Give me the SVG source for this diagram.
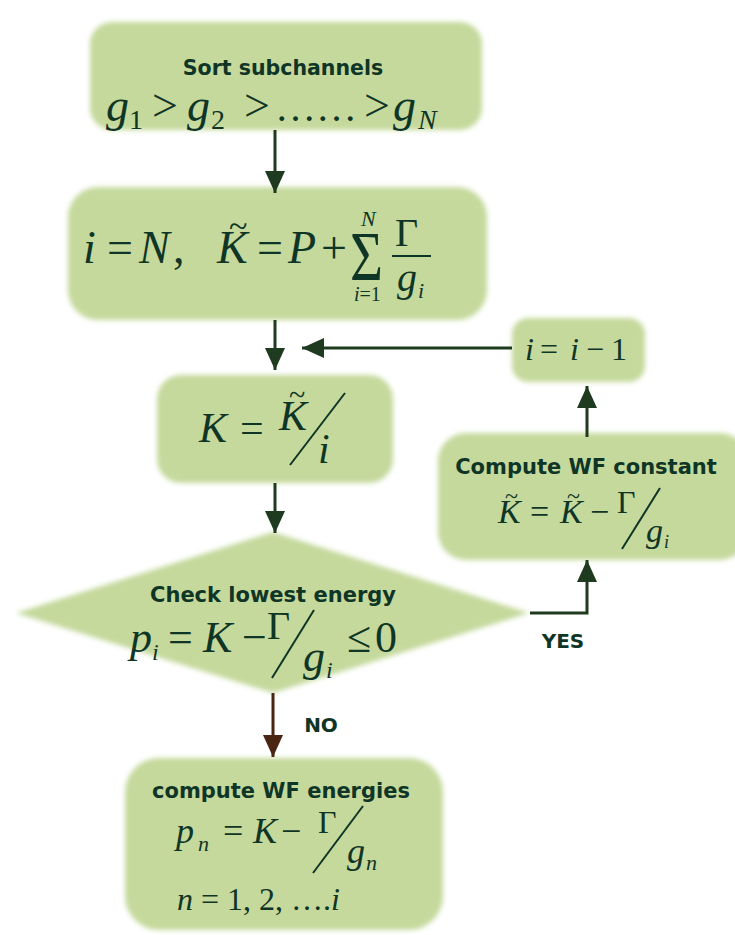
<svg xmlns="http://www.w3.org/2000/svg" width="735" height="935" viewBox="0 0 735 935">
<defs>
<filter id="soft" x="-10%" y="-10%" width="120%" height="120%"><feGaussianBlur stdDeviation="2.5"/></filter>
<marker id="ah" viewBox="0 0 22 20" refX="22" refY="10" markerWidth="22" markerHeight="20" markerUnits="userSpaceOnUse" orient="auto"><path d="M0,0 L22,10 L0,20 Z" fill="#1e3a1f"/></marker>
<marker id="ahb" viewBox="0 0 22 20" refX="22" refY="10" markerWidth="22" markerHeight="20" markerUnits="userSpaceOnUse" orient="auto"><path d="M0,0 L22,10 L0,20 Z" fill="#4a2612"/></marker>
</defs>
<style>
.sh{fill:#c5d99c;filter:url(#soft)}
.m{font-family:"Liberation Serif","Times New Roman",serif;fill:#0f3526}
.v{font-style:italic}
.t{font-family:"DejaVu Sans",Verdana,sans-serif;font-weight:bold;fill:#0f3526;text-anchor:middle}
.sl{stroke:#0f3526;stroke-width:2;fill:none}
.c{stroke:#1e3a1f;stroke-width:3;fill:none}
</style>
<rect width="735" height="935" fill="#ffffff"/>

<g id="sort">
<rect class="sh" x="90" y="22" width="392" height="108" rx="22"/>
<text class="t" x="283" y="75" font-size="20.5">Sort subchannels</text>
<text class="m" font-size="46"><tspan class="v" x="106" y="121">g</tspan><tspan x="129" y="129" font-size="28">1</tspan><tspan x="152" y="121">&gt;</tspan><tspan class="v" x="187" y="121">g</tspan><tspan x="211" y="129" font-size="28">2</tspan><tspan x="244" y="121">&gt;</tspan><tspan x="275" y="121" font-size="41">……</tspan><tspan x="364" y="121">&gt;</tspan><tspan class="v" x="393" y="121">g</tspan><tspan class="v" x="418" y="129" font-size="28">N</tspan></text>
</g>

<g id="init">
<rect class="sh" x="68" y="187" width="419" height="133" rx="30"/>
<text class="m" font-size="46"><tspan class="v" x="83" y="263">i</tspan><tspan x="107" y="263">=</tspan><tspan class="v" x="139" y="263">N</tspan><tspan x="173" y="263">,</tspan><tspan class="v" x="217" y="263">K</tspan><tspan x="257" y="263">=</tspan><tspan class="v" x="288" y="263">P</tspan><tspan x="321" y="263">+</tspan></text>
<text class="m" x="229" y="237" font-size="34">~</text>
<text class="m" transform="translate(350,280) scale(1.05,1.3)" font-size="54">Σ</text>
<text class="m v" x="361" y="226" font-size="22">N</text>
<text class="m" x="354" y="301" font-size="20"><tspan class="v">i</tspan>=1</text>
<text class="m" x="395" y="246" font-size="40">Γ</text>
<line class="sl" x1="392" y1="256" x2="431" y2="256"/>
<text class="m" font-size="40"><tspan class="v" x="397" y="291">g</tspan><tspan class="v" x="418" y="298" font-size="22">i</tspan></text>
</g>

<g id="kdiv">
<rect class="sh" x="157" y="375" width="236" height="108" rx="24"/>
<text class="m" font-size="42"><tspan class="v" x="199" y="442">K</tspan><tspan x="240" y="442">=</tspan><tspan class="v" x="279" y="430">K</tspan><tspan class="v" x="318" y="463">i</tspan></text>
<text class="m" x="289" y="405" font-size="30">~</text>
<line class="sl" x1="290" y1="465" x2="345" y2="393"/>
</g>

<g id="dec">
<rect class="sh" x="512" y="318" width="133" height="64" rx="16"/>
<text class="m" font-size="32"><tspan class="v" x="525" y="360">i</tspan><tspan x="540" y="360">=</tspan><tspan class="v" x="570" y="360">i</tspan><tspan x="586" y="360">−</tspan><tspan x="611" y="360">1</tspan></text>
</g>

<g id="wfconst">
<rect class="sh" x="438" y="433" width="310" height="127" rx="28"/>
<text class="t" x="586" y="474" font-size="21">Compute WF constant</text>
<text class="m" font-size="34"><tspan class="v" x="498" y="523">K</tspan><tspan x="530" y="523">=</tspan><tspan class="v" x="560" y="523">K</tspan><tspan x="590" y="523">−</tspan><tspan x="617" y="513" font-size="32">Γ</tspan><tspan class="v" x="646" y="542">g</tspan><tspan class="v" x="664" y="548" font-size="18">i</tspan></text>
<text class="m" x="505" y="504" font-size="24">~</text>
<text class="m" x="567" y="504" font-size="24">~</text>
<line class="sl" x1="622" y1="549" x2="660" y2="488"/>
</g>

<g id="check">
<polygon class="sh" points="16,613 273,532 529,613 273,693"/>
<text class="t" x="273" y="602" font-size="21">Check lowest energy</text>
<text class="m" font-size="44"><tspan class="v" x="130" y="652">p</tspan><tspan class="v" x="152" y="660" font-size="24">i</tspan><tspan x="168" y="652">=</tspan><tspan class="v" x="203" y="652">K</tspan><tspan x="242" y="652">−</tspan><tspan x="267" y="639" font-size="40">Γ</tspan><tspan class="v" x="303" y="671">g</tspan><tspan class="v" x="326" y="678" font-size="24">i</tspan><tspan x="347" y="652">≤</tspan><tspan x="375" y="652">0</tspan></text>
<line class="sl" x1="272" y1="678" x2="314" y2="610"/>
</g>

<g id="wfenergies">
<rect class="sh" x="125" y="758" width="318" height="172" rx="34"/>
<text class="t" x="281" y="798" font-size="21">compute WF energies</text>
<text class="m" font-size="36"><tspan class="v" x="176" y="843">p</tspan><tspan class="v" x="198" y="851" font-size="22">n</tspan><tspan x="223" y="843">=</tspan><tspan class="v" x="253" y="843">K</tspan><tspan x="281" y="843">−</tspan><tspan x="318" y="833" font-size="32">Γ</tspan><tspan class="v" x="347" y="863" font-size="36">g</tspan><tspan class="v" x="366" y="870" font-size="22">n</tspan></text>
<line class="sl" x1="313" y1="873" x2="363" y2="806"/>
<text class="m" x="177" y="910" font-size="32"><tspan class="v">n</tspan> = 1, 2, ….<tspan class="v">i</tspan></text>
</g>

<g id="connectors">
<line class="c" x1="275" y1="130" x2="275" y2="193" marker-end="url(#ah)"/>
<line class="c" x1="275" y1="320" x2="275" y2="370" marker-end="url(#ah)"/>
<line class="c" x1="512" y1="348" x2="302" y2="348" marker-end="url(#ah)"/>
<line class="c" x1="275" y1="483" x2="275" y2="533" marker-end="url(#ah)"/>
<line class="c" x1="587" y1="437" x2="587" y2="386" marker-end="url(#ah)"/>
<polyline class="c" points="530,613 587,613 587,560" marker-end="url(#ah)"/>
<line x1="273" y1="693" x2="273" y2="757" stroke="#4a2612" stroke-width="3" marker-end="url(#ahb)"/>
<text class="t" x="563" y="648" font-size="20">YES</text>
<text class="t" x="321" y="732" font-size="20">NO</text>
</g>
</svg>
